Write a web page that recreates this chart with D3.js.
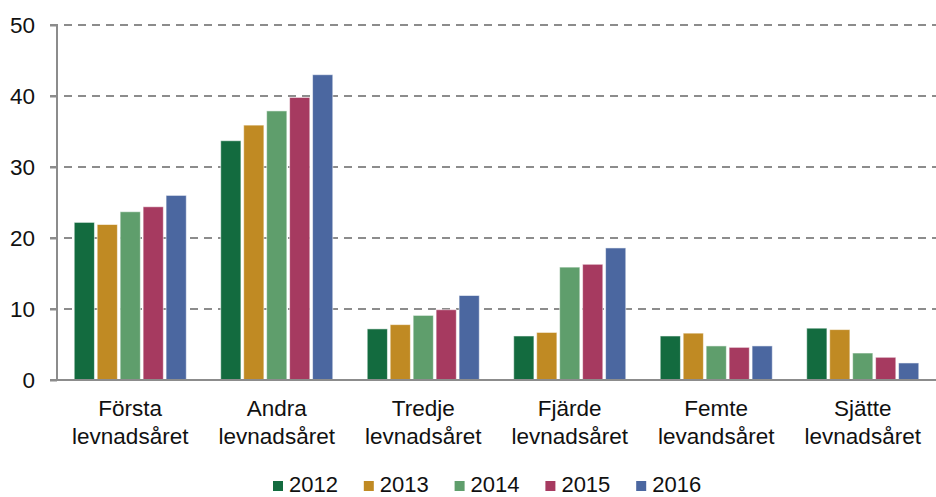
<!DOCTYPE html>
<html>
<head>
<meta charset="utf-8">
<script src="https://cdn.jsdelivr.net/npm/d3@7"></script>
<style>
  body { margin: 0; background: #fff; }
  text { font-family: "Liberation Sans", Arial, sans-serif; fill: #111; }
</style>
</head>
<body>
<div id="chart"></div>
<script>
// data
const categories = [
    ['Första', 'levnadsåret'],
    ['Andra', 'levnadsåret'],
    ['Tredje', 'levnadsåret'],
    ['Fjärde', 'levnadsåret'],
    ['Femte', 'levandsåret'],
    ['Sjätte', 'levnadsåret']
]
const years = ['2012', '2013', '2014', '2015', '2016']
const v2012 = [22.2, 33.7, 7.2, 6.2, 6.2, 7.3]
const v2013 = [21.9, 35.9, 7.8, 6.7, 6.6, 7.1]
const v2014 = [23.7, 37.9, 9.1, 15.9, 4.8, 3.8]
const v2015 = [24.4, 39.8, 9.9, 16.3, 4.6, 3.2]
const v2016 = [26.0, 43.0, 11.9, 18.6, 4.8, 2.4]
const yTicks = [0, 10, 20, 30, 40, 50]
const colors = ['#136b3f', '#c08a23', '#5f9e6c', '#a63a60', '#4b67a0']

const series = [v2012, v2013, v2014, v2015, v2016]

// consts
const width = 936, height = 497
const m = { left: 57, right: 936, top: 25, bottom: 380 }

const svg = d3.select('#chart')
    .append('svg')
    .attr('width', width)
    .attr('height', height)

// scales
const x0 = d3.scaleBand()
    .domain(d3.range(categories.length))
    .range([m.left, m.right])
    .paddingInner(0.235)
    .paddingOuter(0.1175)
const x1 = d3.scaleBand()
    .domain(years)
    .range([0, x0.bandwidth()])
    .paddingInner(0.12)
const y = d3.scaleLinear()
    .domain([0, 50])
    .range([m.bottom, m.top])

// gridlines
svg.append('g')
    .selectAll('line')
    .data(yTicks.filter(d => d > 0))
    .enter()
    .append('line')
    .attr('x1', m.left - 7)
    .attr('x2', m.right)
    .attr('y1', d => y(d))
    .attr('y2', d => y(d))
    .attr('stroke', '#8c8c8c')
    .attr('stroke-width', 2)
    .attr('stroke-dasharray', '8,6')

// bars
const groups = svg.append('g')
    .selectAll('g')
    .data(categories)
    .enter()
    .append('g')
    .attr('transform', (d, i) => `translate(${x0(i)},0)`)

groups.selectAll('rect')
    .data((d, i) => years.map((yr, j) => ({ yr, j, v: series[j][i] })))
    .enter()
    .append('rect')
    .attr('x', d => x1(d.yr))
    .attr('y', d => y(d.v))
    .attr('width', x1.bandwidth())
    .attr('height', d => y(0) - y(d.v))
    .attr('fill', d => colors[d.j])
    .attr('stroke', 'rgba(255,255,255,0.55)')
    .attr('stroke-width', 1)

// axes
const yAxis = svg.append('g')
    .attr('transform', `translate(${m.left},0)`)
    .call(d3.axisLeft(y).tickValues(yTicks).tickSize(7).tickPadding(15))
yAxis.select('.domain').remove()
yAxis.selectAll('line').attr('stroke', '#8c8c8c').attr('stroke-width', 2)
yAxis.selectAll('text')
    .style('font-size', '22.5px')
    .attr('fill', '#111')

svg.append('line')
    .attr('x1', m.left).attr('x2', m.left)
    .attr('y1', y(50)).attr('y2', y(0))
    .attr('stroke', '#8c8c8c').attr('stroke-width', 2)
svg.append('line')
    .attr('x1', m.left - 7).attr('x2', m.right)
    .attr('y1', y(0)).attr('y2', y(0))
    .attr('stroke', '#8c8c8c').attr('stroke-width', 2)

// category labels
const xl = svg.append('g')
    .selectAll('text')
    .data(categories)
    .enter()
    .append('text')
    .attr('text-anchor', 'middle')
    .style('font-size', '22.5px')
    .attr('x', (d, i) => x0(i) + x0.bandwidth() / 2)
    .attr('y', 416)
xl.append('tspan')
    .attr('x', (d, i) => x0(i) + x0.bandwidth() / 2)
    .text(d => d[0])
xl.append('tspan')
    .attr('x', (d, i) => x0(i) + x0.bandwidth() / 2)
    .attr('dy', 28)
    .text(d => d[1])

// legend
const legend = svg.append('g')
    .selectAll('g')
    .data(years)
    .enter()
    .append('g')
    .attr('transform', (d, i) => `translate(${273 + i * 90.8},481)`)
legend.append('rect')
    .attr('width', 10)
    .attr('height', 10)
    .attr('fill', (d, i) => colors[i])
legend.append('text')
    .attr('x', 16)
    .attr('y', 11)
    .style('font-size', '22px')
    .text(d => d)
</script>
</body>
</html>
